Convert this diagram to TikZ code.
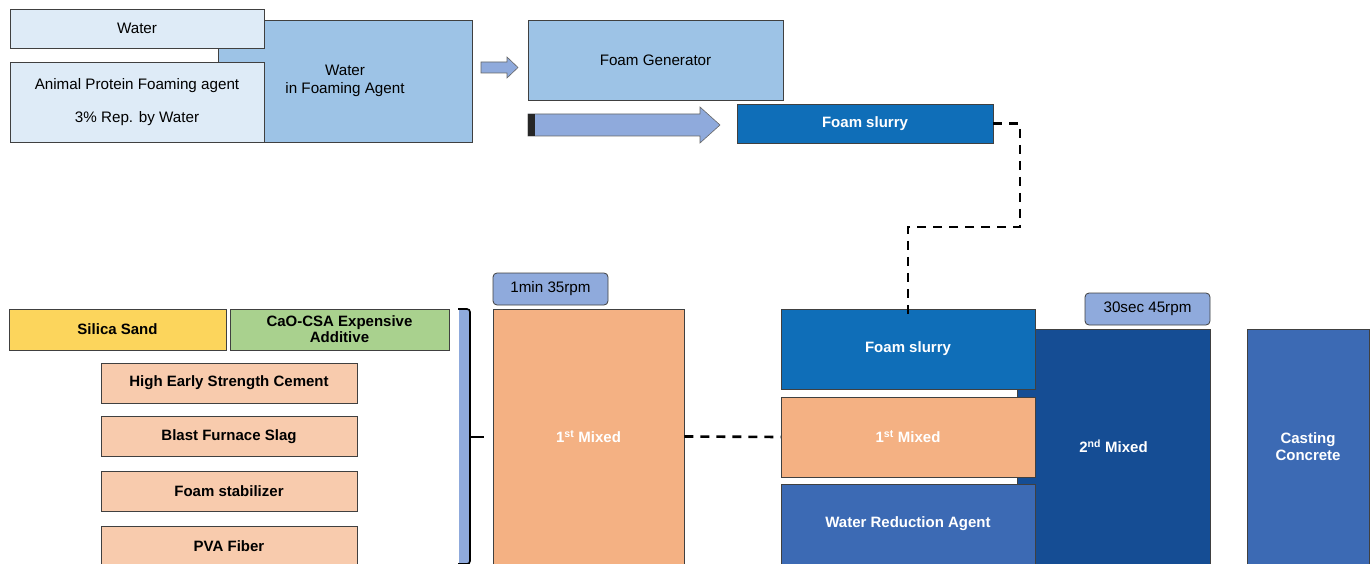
\documentclass[tikz,border=0pt]{standalone}
\usepackage{fontspec}
\setmainfont{Liberation Sans}
\usetikzlibrary{positioning}

\definecolor{paleblue}{HTML}{DEEBF7}
\definecolor{midblue}{HTML}{9DC3E6}
\definecolor{tagblue}{HTML}{8FAADC}
\definecolor{slurryblue}{HTML}{0F6EB8}
\definecolor{deepblue}{HTML}{154D94}
\definecolor{steelblue}{HTML}{3C6AB4}
\definecolor{orange1}{HTML}{F4B183}
\definecolor{orange2}{HTML}{F8CBAD}
\definecolor{sandyellow}{HTML}{FCD55C}
\definecolor{leafgreen}{HTML}{A9D18E}

\begin{document}
\begin{tikzpicture}[x=1pt,y=-1pt,
	box/.style={rectangle,draw=black!75,line width=0.8pt,inner sep=0pt,align=center,
		font=\fontsize{15.2}{17.5}\selectfont},
	pale box/.style={box,fill=paleblue},
	mid box/.style={box,fill=midblue},
	slurry box/.style={box,fill=slurryblue,text=white,font=\fontsize{15}{17.5}\selectfont\bfseries},
	mix box/.style={box,fill=orange1,text=white,font=\fontsize{15}{17.5}\selectfont\bfseries},
	dark box/.style={box,fill=deepblue,text=white,font=\fontsize{15}{17.5}\selectfont\bfseries},
	steel box/.style={box,fill=steelblue,text=white,font=\fontsize{15}{17.5}\selectfont\bfseries},
	mat box/.style={box,fill=orange2,minimum width=256,minimum height=40,font=\fontsize{15}{17.5}\selectfont\bfseries},
	tag box/.style={box,fill=tagblue,rounded corners=4pt,minimum height=32},
	block arrow/.style={draw=black!60,line width=0.6pt,fill=tagblue},
	flow/.style={draw,line width=2.6pt,dash pattern=on 9pt off 7pt}]

	\useasboundingbox (0,0) rectangle (1370,564);

	\node[mid box,minimum width=254,minimum height=122] (agent) at (345,81) {Water\\in Foaming Agent};
	\node[pale box,minimum width=254,minimum height=39] (water) at (137,28.5) {Water};
	\node[pale box,minimum width=254,minimum height=80] (animal) at (137,102) {Animal Protein Foaming agent\\[16pt]3\% Rep. by Water};
	\node[mid box,minimum width=255,minimum height=80] (generator) at (655.5,60) {Foam Generator};
	\node[slurry box,minimum width=256,minimum height=39] (slurry) at (865,123.5) {Foam slurry};

	\draw[block arrow] (481,62) -- (507,62) -- (507,57) -- (518,67.5) -- (507,78) -- (507,73) -- (481,73) -- cycle;
	\draw[block arrow] (528,114) -- (700,114) -- (700,107) -- (720,125) -- (700,143) -- (700,136) -- (528,136) -- cycle;
	\fill[black!85] (528,114) rectangle (535,136);

	\node[box,fill=sandyellow,minimum width=217,minimum height=41,font=\fontsize{15}{17}\selectfont\bfseries] (sand) at (117.5,329.5) {Silica Sand};
	\node[box,fill=leafgreen,minimum width=219,minimum height=41,font=\fontsize{15}{16}\selectfont\bfseries] (csa) at (339.5,329.5) {CaO-CSA Expensive\\Additive};
	\node[mat box] (cement) at (229,383) {High Early Strength Cement};
	\node[mat box,below=13pt of cement] (slag) {Blast Furnace Slag};
	\node[mat box,below=14pt of slag] (stabilizer) {Foam stabilizer};
	\node[mat box,below=14pt of stabilizer] (fiber) {PVA Fiber};

	\fill[tagblue] (459,309) rectangle (470,565);
	\draw[line width=1.6pt,rounded corners=3pt] (458,309) -- (470,309) -- (470,564) -- (458,564);
	\draw[line width=1.6pt] (470,437) -- (484,437);

	\node[tag box,minimum width=115] (tagfirst) at (550.5,289) {1min 35rpm};
	\node[mix box,minimum width=191,minimum height=255] (first) at (588.5,436.5) {1\textsuperscript{st} Mixed};

	\node[dark box,minimum width=193,minimum height=235] (second) at (1113.5,446.5) {2\textsuperscript{nd} Mixed};
	\node[slurry box,minimum width=254,minimum height=80] (slurrytwo) at (908,349) {Foam slurry};
	\node[mix box,minimum width=254,minimum height=80] (firsttwo) at (908,437) {1\textsuperscript{st} Mixed};
	\node[steel box,minimum width=254,minimum height=80] (reducer) at (908,524) {Water Reduction Agent};
	\node[tag box,minimum width=125] (tagsecond) at (1147.5,309) {30sec 45rpm};
	\node[steel box,minimum width=122,minimum height=235] (casting) at (1308,446.5) {Casting\\Concrete};

	\coordinate (bend) at (1020,227);
	\draw[flow] (slurry.east) -| (bend) -| ([yshift=-7]slurrytwo.north);
	\draw[flow] (first.east) -- (firsttwo.west);
\end{tikzpicture}
\end{document}
